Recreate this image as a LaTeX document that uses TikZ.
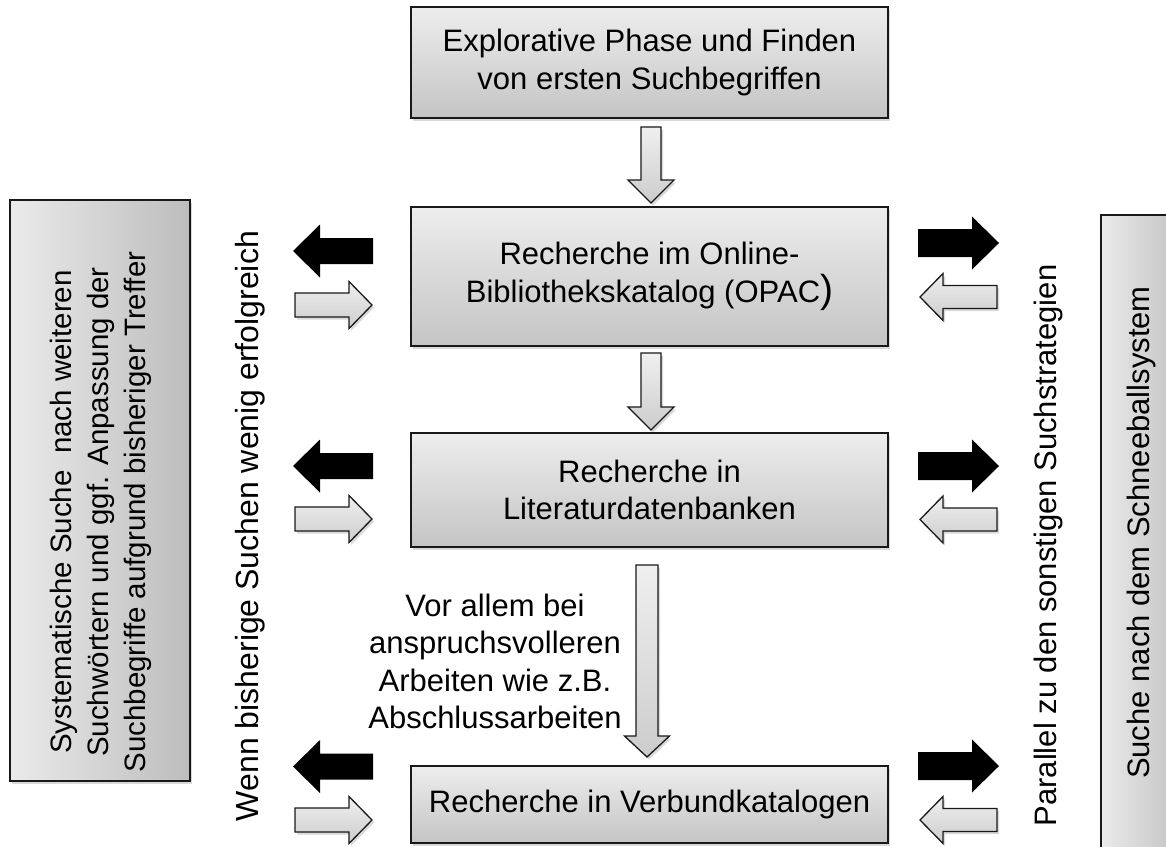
\documentclass[tikz,border=0pt]{standalone}
\usepackage{fontspec}
\setmainfont{Liberation Sans}
\usetikzlibrary{shadows}
% horizontal block arrow: style, tail x, head-base x, tip x, y, half head height, half shaft height
\newcommand\HArr[7]{\path[#1] (#2,#5-#7) -- (#3,#5-#7) -- (#3,#5-#6) -- (#4,#5) -- (#3,#5+#6) -- (#3,#5+#7) -- (#2,#5+#7) -- cycle;}
% vertical block arrow: style, x, tail y, head-base y, tip y, half head width, half shaft width
\newcommand\VArr[7]{\path[#1] (#2-#7,#3) -- (#2-#7,#4) -- (#2-#6,#4) -- (#2,#5) -- (#2+#6,#4) -- (#2+#7,#4) -- (#2+#7,#3) -- cycle;}
\tikzset{
  shade/.style={drop shadow={shadow xshift=2pt, shadow yshift=-2.5pt, opacity=0.3}},
  mainbox/.style={draw=black!90, line width=1.4pt, top color=gray!14, bottom color=gray!46,
    shade, align=center, inner sep=0pt, minimum width=477pt},
  sidebox/.style={draw=black!90, line width=1.4pt, left color=gray!16, right color=gray!52, shade},
  greyarrow/.style={draw=black!90, line width=1.3pt, line join=miter, top color=gray!12, bottom color=gray!40, shade},
  blackarrow/.style={fill=black},
  label/.style={align=center, inner sep=0pt}
}
\begin{document}
\begin{tikzpicture}[x=1pt, y=-1pt, font=\fontsize{31}{37.5}\selectfont]
\useasboundingbox (0,0) rectangle (1166,846);

% main flow boxes
\node[mainbox, minimum height=111pt] (explore) at (649.5,62.5)
  {Explorative Phase und Finden\\von ersten Suchbegriffen};
\node[mainbox, minimum height=139pt] (opac) at (649.5,276.5)
  {Recherche im Online-\\Bibliothekskatalog (OPAC{\fontsize{39}{39}\selectfont)}};
\node[mainbox, minimum height=114pt] (litdb) at (649.5,490)
  {Recherche in\\Literaturdatenbanken};
\node[mainbox, minimum height=77pt] (verbund) at (649.5,804.5)
  {Recherche in Verbundkatalogen};

% down arrows
\VArr{greyarrow}{651}{127}{180}{203}{23}{10}
\VArr{greyarrow}{651}{353}{407}{430}{23}{10}
\VArr{greyarrow}{647}{565}{736}{757}{22.5}{11}

\node[label] (vorallem) at (495,661.5)
  {Vor allem bei\\anspruchsvolleren\\Arbeiten wie z.B.\\Abschlussarbeiten};

% left side
\node[sidebox, minimum width=180pt, minimum height=581pt] (sysbox) at (100,490.5) {};
\node[label, rotate=90, font=\fontsize{29.5}{37}\selectfont] (systxt) at (101,512)
  {Systematische Suche~ nach weiteren\\Suchw\"ortern und ggf. Anpassung der\\Suchbegriffe aufgrund bisheriger Treffer};
\node[label, rotate=90, font=\fontsize{32}{38}\selectfont] (wenn) at (250,526) {Wenn bisherige Suchen wenig erfolgreich};

\HArr{blackarrow}{373}{320}{293}{251}{26.5}{13}
\HArr{greyarrow}{295}{349}{372}{305}{23.5}{12}
\HArr{blackarrow}{373}{320}{293}{466}{26.5}{13}
\HArr{greyarrow}{295}{349}{372}{519}{23.5}{12}
\HArr{blackarrow}{373}{320}{293}{766.5}{26.5}{13}
\HArr{greyarrow}{295}{349}{372}{820}{23.5}{12}

% right side
\HArr{blackarrow}{918}{972}{999}{243}{26.5}{14}
\HArr{greyarrow}{997}{943}{920}{297}{23.5}{11.5}
\HArr{blackarrow}{918}{972}{999}{466}{26.5}{14}
\HArr{greyarrow}{997}{943}{920}{519.5}{23.5}{11.5}
\HArr{blackarrow}{918}{972}{999}{766}{26.5}{14}
\HArr{greyarrow}{997}{943}{920}{820}{23.5}{11.5}

\node[label, rotate=90] (parallel) at (1048,545.5) {Parallel zu den sonstigen Suchstrategien};

\begin{scope}
  \clip (0,0) rectangle (1166,846);
  \node[sidebox, minimum width=90pt, minimum height=660pt] (schneebox) at (1146,545) {};
\end{scope}
\node[label, rotate=90] (schnee) at (1141,532.5) {Suche nach dem Schneeballsystem};
\end{tikzpicture}
\end{document}
